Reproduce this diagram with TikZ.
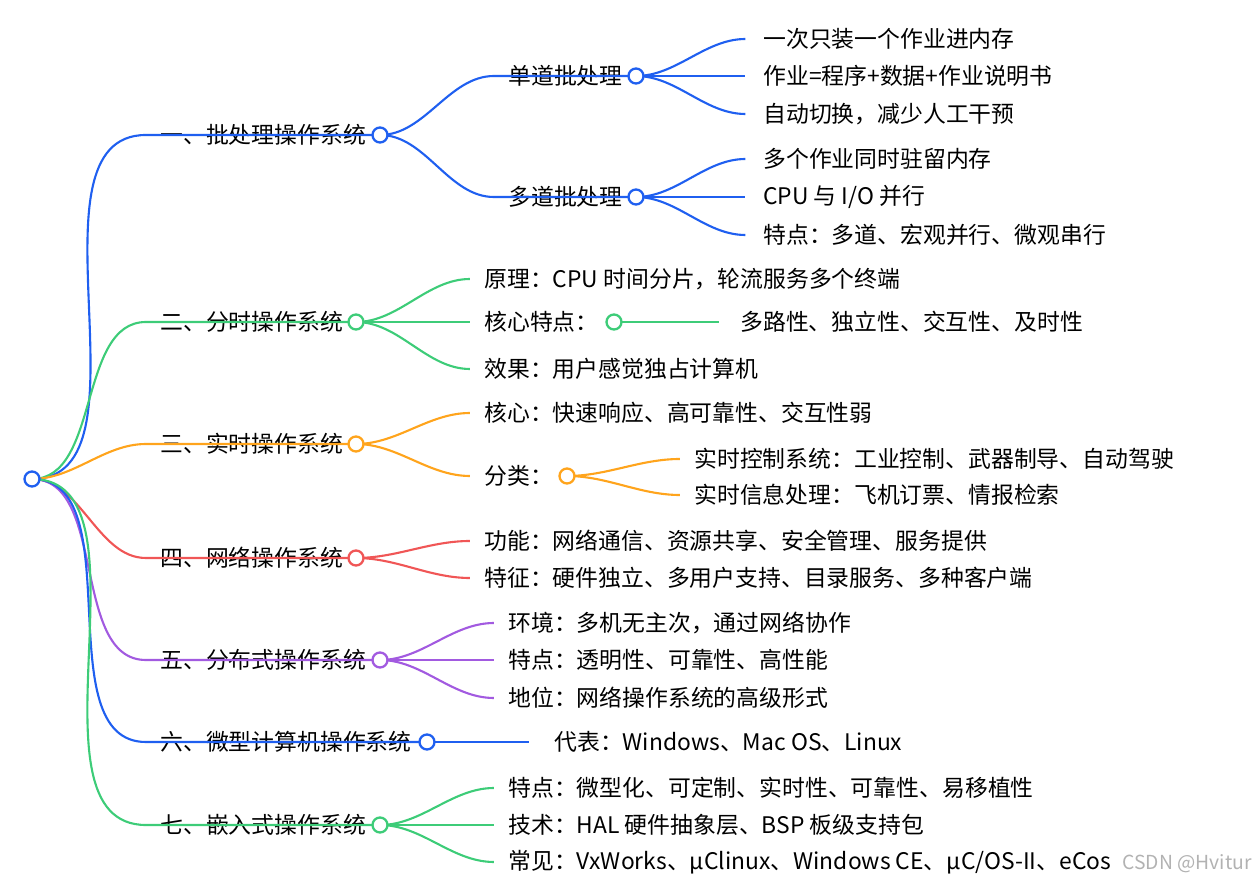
\documentclass[tikz,border=0pt]{standalone}
\usepackage{fontspec}
\setmainfont{Noto Sans CJK SC}
\definecolor{mblue}{HTML}{1F5FF0}
\definecolor{mgreen}{HTML}{3DCC78}
\definecolor{morange}{HTML}{FFA41C}
\definecolor{mred}{HTML}{F05656}
\definecolor{mpurple}{HTML}{A25AE0}
\tikzset{
  lbl/.style={anchor=west,inner sep=0pt,font=\fontsize{13}{15}\selectfont},
  knot/.style={circle,draw=#1,fill=white,line width=1.3pt,minimum size=0.3cm,inner sep=0pt},
  link/.style={draw=#1,line width=1.2pt,out=0,in=180,looseness=0.9}
}
\begin{document}
\begin{tikzpicture}[x=0.02cm,y=-0.02cm]
\useasboundingbox (0,0) rectangle (1255,888);
% root
\coordinate (r) at (32,479);
% level one
\node[lbl] (a1) at (160,135) {一、批处理操作系统};
\node[lbl] (a2) at (160,322) {二、分时操作系统};
\node[lbl] (a3) at (160,444) {三、实时操作系统};
\node[lbl] (a4) at (160,558) {四、网络操作系统};
\node[lbl] (a5) at (160,660) {五、分布式操作系统};
\node[lbl] (a6) at (160,742) {六、微型计算机操作系统};
\node[lbl] (a7) at (160,825) {七、嵌入式操作系统};
\coordinate (k1) at (380,135);
\coordinate (k2) at (356,322);
\coordinate (k3) at (356,444);
\coordinate (k4) at (356,558);
\coordinate (k5) at (380,660);
\coordinate (k6) at (427,742);
\coordinate (k7) at (380,825);
\foreach \i/\c in {1/mblue,2/mgreen,3/morange,4/mred,5/mpurple,6/mblue,7/mgreen}
  \draw[link=\c] (r) to ([xshift=-8]a\i.west) -- (k\i);
% batch
\node[lbl] (b1) at (508,76) {单道批处理};
\node[lbl] (b2) at (508,197) {多道批处理};
\coordinate (kb1) at (636,76);
\coordinate (kb2) at (636,197);
\draw[link=mblue] (k1) to ([xshift=-8]b1.west) -- (kb1);
\draw[link=mblue] (k1) to ([xshift=-8]b2.west) -- (kb2);
\node[lbl] (c1) at (763,39) {一次只装一个作业进内存};
\node[lbl] (c2) at (763,76) {作业=程序+数据+作业说明书};
\node[lbl] (c3) at (763,114) {自动切换，减少人工干预};
\node[lbl] (c4) at (763,159) {多个作业同时驻留内存};
\node[lbl] (c5) at (763,197) {CPU 与 I/O 并行};
\node[lbl] (c6) at (763,235) {特点：多道、宏观并行、微观串行};
\foreach \j in {1,2,3} \draw[link=mblue] (kb1) to ([xshift=-10]c\j.west);
\foreach \j in {4,5,6} \draw[link=mblue] (kb2) to ([xshift=-10]c\j.west);
% time sharing
\node[lbl] (d1) at (484,279) {原理：CPU 时间分片，轮流服务多个终端};
\node[lbl] (d2) at (484,322) {核心特点：};
\node[lbl] (d3) at (484,369) {效果：用户感觉独占计算机};
\coordinate (kd2) at (614,322);
\node[lbl] (e1) at (740,322) {多路性、独立性、交互性、及时性};
\foreach \j in {1,2,3} \draw[link=mgreen] (k2) to ([xshift=-8]d\j.west);
\draw[link=mgreen] (kd2) -- ([xshift=-12]e1.west);
% real time
\node[lbl] (f1) at (484,413) {核心：快速响应、高可靠性、交互性弱};
\node[lbl] (f2) at (484,476) {分类：};
\coordinate (kf2) at (567,476);
\node[lbl] (g1) at (694,459) {实时控制系统：工业控制、武器制导、自动驾驶};
\node[lbl] (g2) at (694,495) {实时信息处理：飞机订票、情报检索};
\foreach \j in {1,2} \draw[link=morange] (k3) to ([xshift=-8]f\j.west);
\foreach \j in {1,2} \draw[link=morange] (kf2) to ([xshift=-8]g\j.west);
% network
\node[lbl] (h1) at (484,541) {功能：网络通信、资源共享、安全管理、服务提供};
\node[lbl] (h2) at (484,578) {特征：硬件独立、多用户支持、目录服务、多种客户端};
\foreach \j in {1,2} \draw[link=mred] (k4) to ([xshift=-8]h\j.west);
% distributed
\node[lbl] (i1) at (508,623) {环境：多机无主次，通过网络协作};
\node[lbl] (i2) at (508,660) {特点：透明性、可靠性、高性能};
\node[lbl] (i3) at (508,698) {地位：网络操作系统的高级形式};
\foreach \j in {1,2,3} \draw[link=mpurple] (k5) to ([xshift=-8]i\j.west);
% micro
\node[lbl] (j1) at (554,742) {代表：Windows、Mac OS、Linux};
\draw[link=mblue] (k6) -- ([xshift=-14]j1.west);
% embedded
\node[lbl] (l1) at (508,788) {特点：微型化、可定制、实时性、可靠性、易移植性};
\node[lbl] (l2) at (508,825) {技术：HAL 硬件抽象层、BSP 板级支持包};
\node[lbl] (l3) at (508,862) {常见：VxWorks、μClinux、Windows CE、μC/OS-II、eCos};
\foreach \j in {1,2,3} \draw[link=mgreen] (k7) to ([xshift=-8]l\j.west);
% knots on top
\node[knot=mblue] at (r) {};
\foreach \i/\c in {1/mblue,2/mgreen,3/morange,4/mred,5/mpurple,6/mblue,7/mgreen}
  \node[knot=\c] at (k\i) {};
\node[knot=mblue] at (kb1) {};
\node[knot=mblue] at (kb2) {};
\node[knot=mgreen] at (kd2) {};
\node[knot=morange] at (kf2) {};
\node[lbl,text=gray!60,font=\fontsize{11}{13}\selectfont] (wm) at (1122,864) {CSDN @Hvitur};
\end{tikzpicture}
\end{document}
